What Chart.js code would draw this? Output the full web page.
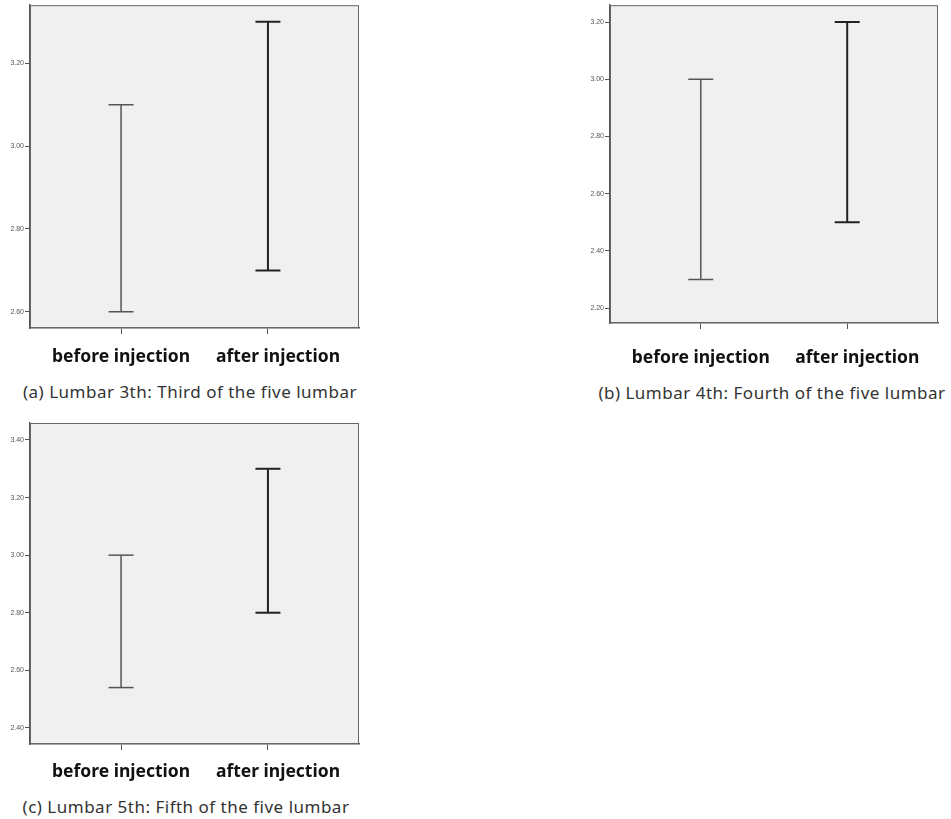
<!DOCTYPE html>
<html lang="en">
<head>
    <meta charset="UTF-8">
    <title>Lumbar error bars</title>
    <script src="https://cdn.jsdelivr.net/npm/chart.js"></script>
    <style>
        body {
            margin: 0;
            background: #fff;
            font-family: "Noto Sans", Arial, sans-serif;
            width: 951px;
            height: 819px;
            position: relative;
            overflow: hidden;
        }
        .box {
            position: absolute;
        }
        .caption {
            position: absolute;
            font-size: 17px;
            letter-spacing: 0.5px;
            color: #333;
            white-space: nowrap;
            transform: translate(-50%, -50%);
        }
    </style>
</head>
<body>
    <div class="box" style="left:0;top:0;width:370px;height:378px"><canvas id="chartA"></canvas></div>
    <div class="box" style="left:580px;top:0;width:370px;height:378px"><canvas id="chartB"></canvas></div>
    <div class="box" style="left:0;top:415px;width:370px;height:379px"><canvas id="chartC"></canvas></div>

    <div class="caption" style="left:190px;top:391px">(a) Lumbar 3th: Third of the five lumbar</div>
    <div class="caption" style="left:772px;top:392px">(b) Lumbar 4th: Fourth of the five lumbar</div>
    <div class="caption" style="left:186px;top:806px">(c) Lumbar 5th: Fifth of the five lumbar</div>

    <script>
        // categories and interval ends
        const categories = ['before injection', 'after injection'];

        const l3Low = [2.60, 2.70];
        const l3High = [3.10, 3.30];

        const l4Low = [2.30, 2.50];
        const l4High = [3.00, 3.20];

        const l5Low = [2.54, 2.80];
        const l5High = [3.00, 3.30];

        // grey plot area + frame
        const frame = {
            id: 'frame',
            beforeDatasetsDraw(chart) {
                const a = chart.chartArea;
                const c = chart.ctx;
                c.save();
                c.fillStyle = '#f0f0f0';
                c.fillRect(a.left, a.top, a.right - a.left, a.bottom - a.top);
                c.strokeStyle = '#666';
                c.lineWidth = 1;
                c.strokeRect(a.left + 0.5, a.top + 0.5, a.right - a.left - 1, a.bottom - a.top - 1);
                c.restore();
            }
        };

        function makeChart(id, low, high, yMin, yMax, pad, axisH, labelPad) {
            const colors = ['#555', '#222'];
            const widths = [1.5, 2];
            const datasets = categories.map((cat, i) => ({
                label: cat,
                data: [{ x: i, y: high[i] }, { x: i, y: low[i] }],
                showLine: true,
                borderColor: colors[i],
                borderWidth: widths[i],
                pointStyle: 'line',
                pointRadius: 12.5,
                pointBorderColor: colors[i],
                pointBorderWidth: widths[i]
            }));

            return new Chart(document.getElementById(id), {
                type: 'scatter',
                data: { datasets },
                plugins: [frame],
                options: {
                    responsive: true,
                    maintainAspectRatio: false,
                    animation: false,
                    layout: { padding: pad, autoPadding: false },
                    plugins: {
                        legend: { display: false },
                        tooltip: { enabled: false }
                    },
                    scales: {
                        x: {
                            type: 'linear',
                            min: -0.62,
                            max: 1.62,
                            afterBuildTicks: s => { s.ticks = [{ value: 0 }, { value: 1 }]; },
                            afterFit: s => { s.height = axisH; },
                            border: { color: '#555', width: 1.5 },
                            grid: { drawOnChartArea: false, tickLength: 6, tickColor: '#555' },
                            ticks: {
                                padding: labelPad,
                                maxRotation: 0,
                                color: '#111',
                                font: { family: 'Noto Sans', size: 17.5, weight: 'bold' },
                                // the second label sits a little right of its tick in the original
                                callback: v => (v === 1 ? '\u2007\u2007' : '') + categories[v]
                            }
                        },
                        y: {
                            min: yMin,
                            max: yMax,
                            afterFit: s => { s.width = 30; },
                            border: { color: '#555', width: 1.5 },
                            grid: { drawOnChartArea: false, tickLength: 5, tickColor: '#555' },
                            ticks: {
                                stepSize: 0.2,
                                includeBounds: false,
                                padding: 1,
                                color: '#555',
                                font: { family: 'Arial', size: 7 },
                                callback: v => v.toFixed(2)
                            }
                        }
                    }
                }
            });
        }

        makeChart('chartA', l3Low, l3High, 2.561, 3.34, { top: 5, right: 11, left: 0, bottom: 0 }, 50, 13);
        makeChart('chartB', l4Low, l4High, 2.148, 3.259, { top: 3, right: 12, left: 0, bottom: 0 }, 55, 19);
        makeChart('chartC', l5Low, l5High, 2.344, 3.459, { top: 8, right: 11, left: 0, bottom: 0 }, 50, 12);
    </script>
</body>
</html>
